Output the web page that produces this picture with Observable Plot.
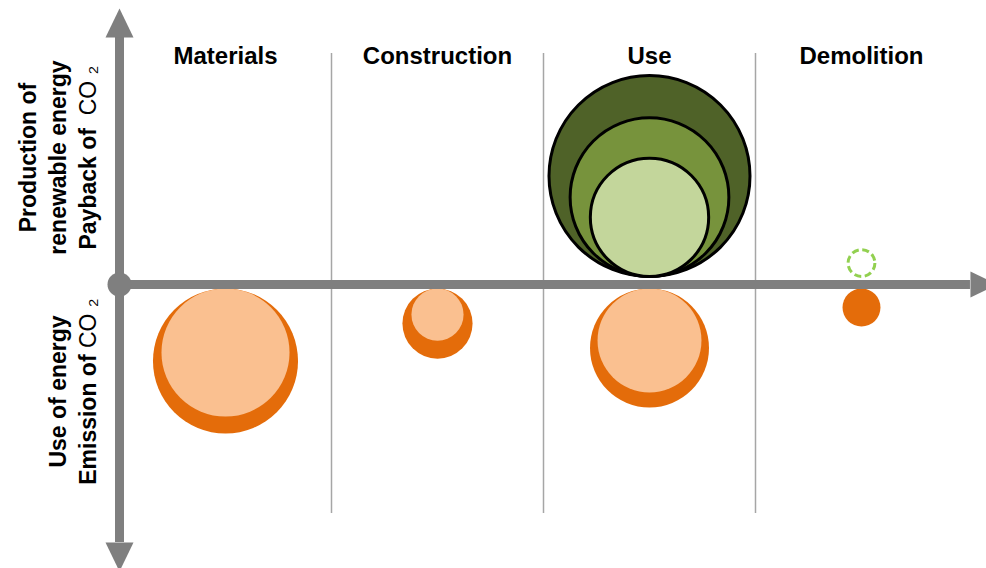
<!DOCTYPE html>
<html>
<head>
<meta charset="utf-8">
<script src="https://cdn.jsdelivr.net/npm/d3@7"></script>
<script src="https://cdn.jsdelivr.net/npm/@observablehq/plot@0.6"></script>
<style>
  html, body { margin: 0; padding: 0; background: #fff; overflow: hidden; }
</style>
</head>
<body>
<div id="chart"></div>
<script>
// ---------- data ----------
const categories = ["Materials", "Construction", "Use", "Demolition"];

// Payback of CO2 (above the axis): three scenarios, all in "Use"
const paybackCategory = ["Use", "Use", "Use"];
const paybackScenario = ["Scenario 1", "Scenario 2", "Scenario 3"];
const paybackValue = [101, 63, 35];

// Potential payback at demolition (dashed outline)
const potentialCategory = ["Demolition"];
const potentialValue = [1.8];

// Emission of CO2 (below the axis)
const emissionCategory = ["Materials", "Construction", "Use", "Demolition"];
const emissionTotal = [52.6, 12.3, 35.4, 3.6];
const emissionReduced = [41, 6.8, 27, null];

const upperLabel = "Production of\nrenewable energy\nPayback of  CO \u2082";
const lowerLabel = "Use of energy\nEmission of CO \u2082";

// ---------- layout / style ----------
const gray = "#7f7f7f";
const greens = ["#4f6228", "#77933c", "#c3d69b"];
const orange = "#e46c0a", peach = "#fac090";
const rDomain = [0, 100], rRange = [0, 100];
const rPx = d3.scaleSqrt().domain(rDomain).range(rRange);
const liftAbove = 8, dropBelow = 4;
const colX = c => categories.indexOf(c) + 0.5;

const payback = paybackValue.map((v, i) => ({category: paybackCategory[i], scenario: paybackScenario[i], value: v}));
const potential = potentialValue.map((v, i) => ({category: potentialCategory[i], value: v}));
const emission = emissionTotal.map((v, i) => ({category: emissionCategory[i], total: v, reduced: emissionReduced[i]}));

const arrow = dir => ({
  draw(ctx, size) {
    const r = Math.sqrt(size / Math.PI), h = 2.07 * r;
    const pts = dir === "up" ? [[0, -h], [r, 0], [-r, 0]]
              : dir === "down" ? [[0, h], [r, 0], [-r, 0]]
              : [[h, 0], [0, r], [0, -r]];
    ctx.moveTo(...pts[0]); ctx.lineTo(...pts[1]); ctx.lineTo(...pts[2]); ctx.closePath();
  }
});

const axisExtent = {yTopBase: 247, yBottomBase: -258, xRightBase: 4.014};
const dividerExtent = {y1: 231, y2: -229};
const font = "Liberation Sans, Arial, Helvetica, sans-serif";

const chart = Plot.plot({
  width: 986,
  height: 568,
  marginLeft: 119,
  marginRight: 19,
  marginTop: 0,
  marginBottom: 0,
  style: {background: "white", fontFamily: font, overflow: "visible"},
  x: {domain: [0, 4], axis: null},
  y: {domain: [-284, 284], axis: null},
  r: {type: "sqrt", domain: rDomain, range: rRange},
  color: {domain: paybackScenario, range: greens},
  marks: [
    Plot.ruleX([1, 2, 3], {y1: dividerExtent.y1, y2: dividerExtent.y2, stroke: "#a6a6a6", strokeWidth: 1.5}),
    Plot.dot(payback, {x: d => colX(d.category), y: d => rPx(d.value) + liftAbove, r: "value", fill: "scenario", stroke: "black", strokeWidth: 3}),
    Plot.dot(potential, {x: d => colX(d.category), y: d => rPx(d.value) + liftAbove, r: "value", fill: "none", stroke: "#92d050", strokeWidth: 3, strokeDasharray: "7,3.6"}),
    Plot.dot(emission, {x: d => colX(d.category), y: d => -(rPx(d.total) + dropBelow), r: "total", fill: orange}),
    Plot.dot(emission.filter(d => d.reduced != null), {x: d => colX(d.category), y: d => -(rPx(d.reduced) + dropBelow), r: "reduced", fill: peach}),
    Plot.ruleX([0], {y1: axisExtent.yBottomBase, y2: axisExtent.yTopBase, stroke: gray, strokeWidth: 9}),
    Plot.ruleY([0], {x1: 0, x2: axisExtent.xRightBase, stroke: gray, strokeWidth: 9}),
    Plot.dot([0], {x: 0, y: axisExtent.yTopBase, r: 14, symbol: arrow("up"), fill: gray, stroke: "none"}),
    Plot.dot([0], {x: 0, y: axisExtent.yBottomBase, r: 14, symbol: arrow("down"), fill: gray, stroke: "none"}),
    Plot.dot([0], {x: axisExtent.xRightBase, y: 0, r: 13, symbol: arrow("right"), fill: gray, stroke: "none"}),
    Plot.dot([0], {x: 0, y: 0, r: 12, fill: gray, stroke: "none"}),
    Plot.text(categories, {x: (d, i) => i + 0.5, frameAnchor: "top", dy: 63, lineAnchor: "bottom", fontSize: 24, fontWeight: "bold", fill: "black", fontFamily: font}),
    Plot.text([upperLabel], {x: 0, y: 127, dx: -24, rotate: -90, textAnchor: "middle", lineAnchor: "bottom", lineHeight: 1.3, fontSize: 23, fontWeight: "bold", fill: "black", fontFamily: font}),
    Plot.text([lowerLabel], {x: 0, y: -107, dx: -24, rotate: -90, textAnchor: "middle", lineAnchor: "bottom", lineHeight: 1.3, fontSize: 23, fontWeight: "bold", fill: "black", fontFamily: font})
  ]
});

// make "CO ₂" regular weight
d3.select(chart).selectAll("tspan").each(function () {
  const t = this.textContent;
  const i = t.indexOf("CO");
  if (i >= 0) {
    const s = d3.select(this);
    s.text(null);
    s.append("tspan").text(t.slice(0, i));
    s.append("tspan").attr("font-weight", "normal").text(t.slice(i));
  }
});

document.getElementById("chart").appendChild(chart);
</script>
</body>
</html>
